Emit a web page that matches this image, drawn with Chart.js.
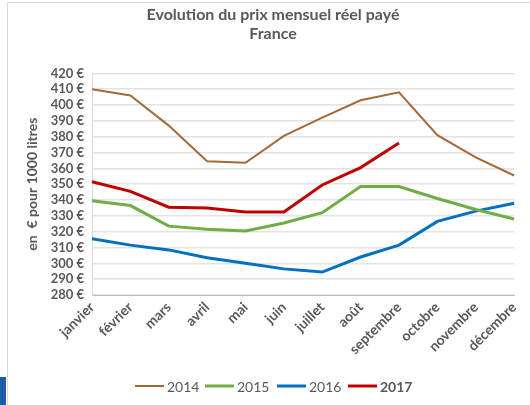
<!DOCTYPE html>
<html lang="fr">
<head>
    <meta charset="UTF-8" />
    <title>Evolution du prix mensuel réel payé</title>
    <script src="https://cdn.jsdelivr.net/npm/chart.js"></script>
    <style>
        html, body { margin: 0; padding: 0; background: #fff; }
        #wrap { position: relative; width: 530px; height: 405px; }
        #frame { position: absolute; left: 7px; top: 2px; right: 0; bottom: 0;
                 border-left: 1px solid #d9d9d9; border-top: 1px solid #d9d9d9; }
        #tab { position: absolute; left: 0; top: 377px; width: 6px; height: 28px; background: #1c5ca6; }
        #prixChart { position: absolute; left: 0; top: 0; }
    </style>
</head>
<body>
<div id="wrap">
    <div id="frame"></div>
    <div id="tab"></div>
    <canvas id="prixChart" width="530" height="405"></canvas>
</div>

<script>
    const mois = ['janvier', 'février', 'mars', 'avril', 'mai', 'juin', 'juillet',
                  'août', 'septembre', 'octobre', 'novembre', 'décembre'];
    const prix2014 = [410, 406, 387, 364.5, 363.5, 380.5, 392, 403, 408, 381, 367, 355.5];
    const prix2015 = [339.5, 336.5, 323.5, 321.5, 320.5, 325.5, 332, 348.5, 348.5, 341, 334, 328];
    const prix2016 = [315.5, 311.5, 308.5, 303.5, 300, 296.5, 294.5, 304, 311.5, 326.5, 333, 338];
    const prix2017 = [351.5, 345.5, 335.5, 335, 332.5, 332.5, 349.5, 360.5, 376];

    const GRIS = '#595959';
    const POLICE = 'Lato, "Liberation Sans", sans-serif';

    // légende dessinée à la main (2017 en gras comme dans l'original)
    const legendeMaison = {
        id: 'legendeMaison',
        afterDraw(chart) {
            const c = chart.ctx;
            const y = 386;
            const items = [
                { t: '2014', col: '#a5693a', w: 2, x: 135, bold: false },
                { t: '2015', col: '#70ad47', w: 3, x: 205, bold: false },
                { t: '2016', col: '#0070c0', w: 3, x: 277, bold: false },
                { t: '2017', col: '#c00000', w: 3, x: 348, bold: true }
            ];
            c.save();
            items.forEach(it => {
                c.strokeStyle = it.col;
                c.lineWidth = it.w;
                c.beginPath();
                c.moveTo(it.x, y);
                c.lineTo(it.x + 29, y);
                c.stroke();
                c.fillStyle = GRIS;
                c.font = (it.bold ? 'bold ' : '') + '14px ' + POLICE;
                c.textBaseline = 'middle';
                c.fillText(it.t, it.x + 32, y + 1);
            });
            c.restore();
        }
    };

    const ctx = document.getElementById('prixChart').getContext('2d');
    const chart = new Chart(ctx, {
        type: 'line',
        data: {
            labels: mois,
            datasets: [
                { label: '2014', data: prix2014, borderColor: '#a5693a', borderWidth: 2 },
                { label: '2015', data: prix2015, borderColor: '#70ad47', borderWidth: 3 },
                { label: '2016', data: prix2016, borderColor: '#0070c0', borderWidth: 3 },
                { label: '2017', data: prix2017, borderColor: '#c00000', borderWidth: 3 }
            ]
        },
        options: {
            responsive: false,
            animation: false,
            elements: {
                point: { radius: 0 },
                line: { tension: 0, fill: false }
            },
            layout: { padding: { left: 24, right: 8, top: 4, bottom: 35 } },
            plugins: {
                legend: { display: false },
                tooltip: { enabled: false },
                title: {
                    display: true,
                    text: ['Evolution du prix mensuel réel payé', 'France'],
                    color: GRIS,
                    font: { family: POLICE, size: 16, weight: 'bold', lineHeight: 1.2 },
                    padding: { top: 1, bottom: 30 }
                }
            },
            scales: {
                x: {
                    grid: { display: false, drawTicks: false },
                    border: { color: '#bfbfbf', width: 1 },
                    ticks: {
                        color: GRIS,
                        font: { family: POLICE, size: 14, weight: 'bold' },
                        maxRotation: 45,
                        minRotation: 45,
                        autoSkip: false,
                        padding: 4
                    },
                    afterFit(s) { s.height = 75; }
                },
                y: {
                    min: 280,
                    max: 420,
                    grid: { color: '#e3e3e3', lineWidth: 1.5, drawTicks: false },
                    border: { color: '#d9d9d9', width: 1 },
                    ticks: {
                        stepSize: 10,
                        autoSkip: false,
                        color: GRIS,
                        font: { family: POLICE, size: 13, weight: 'bold' },
                        padding: 8,
                        callback: v => v + ' €'
                    },
                    title: {
                        display: true,
                        text: 'en  € pour 1000 litres',
                        color: GRIS,
                        font: { family: POLICE, size: 14, weight: 'bold' },
                        padding: { top: 0, bottom: 4 }
                    },
                    afterFit(s) { s.width = 68; }
                }
            }
        },
        plugins: [legendeMaison]
    });
</script>
</body>
</html>
